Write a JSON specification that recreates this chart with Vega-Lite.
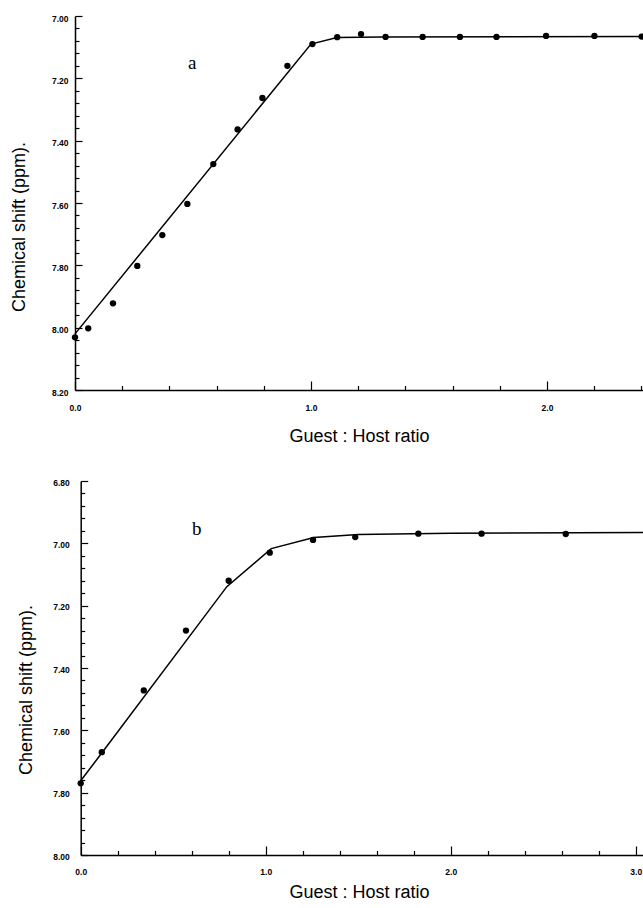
{
  "$schema": "https://vega.github.io/schema/vega-lite/v6.json",
  "autosize": {"type": "none"},
  "padding": {"left": 75, "top": 16, "right": 568, "bottom": 892},
  "background": "white",
  "spacing": 33,
  "config": {
    "view": {"stroke": null},
    "axis": {
      "grid": false,
      "domainColor": "black",
      "domainWidth": 1.5,
      "tickColor": "black",
      "tickWidth": 1.2,
      "labelColor": "black",
      "labelFont": "Liberation Sans",
      "labelFontWeight": "bold",
      "labelFontSize": 8.5,
      "labelFlush": false,
      "labelOverlap": false,
      "titleColor": "black",
      "titleFont": "Liberation Sans",
      "titleFontSize": 18,
      "titleFontWeight": "normal"
    }
  },
  "datasets": {
    "fitA": [
      {"x": 0, "y": 8.02},
      {"x": 1.0, "y": 7.09},
      {"x": 1.11, "y": 7.069},
      {"x": 1.3, "y": 7.067},
      {"x": 2.4068, "y": 7.066}
    ],
    "ptsA": [
      {"x": 0, "y": 8.031},
      {"x": 0.056, "y": 8.002},
      {"x": 0.161, "y": 7.922},
      {"x": 0.264, "y": 7.802},
      {"x": 0.37, "y": 7.703},
      {"x": 0.476, "y": 7.603},
      {"x": 0.586, "y": 7.475},
      {"x": 0.689, "y": 7.364},
      {"x": 0.794, "y": 7.263},
      {"x": 0.9, "y": 7.16},
      {"x": 1.006, "y": 7.09},
      {"x": 1.111, "y": 7.068},
      {"x": 1.212, "y": 7.058},
      {"x": 1.316, "y": 7.067},
      {"x": 1.473, "y": 7.067},
      {"x": 1.631, "y": 7.067},
      {"x": 1.786, "y": 7.067},
      {"x": 1.996, "y": 7.064},
      {"x": 2.201, "y": 7.064},
      {"x": 2.401, "y": 7.066}
    ],
    "labA": [{"x": 0.497, "y": 7.15, "label": "a"}],
    "fitB": [
      {"x": 0, "y": 7.762},
      {"x": 0.12, "y": 7.668},
      {"x": 0.79, "y": 7.139},
      {"x": 1.03, "y": 7.017},
      {"x": 1.26, "y": 6.981},
      {"x": 1.5, "y": 6.972},
      {"x": 2.0, "y": 6.968},
      {"x": 3.0395, "y": 6.965}
    ],
    "ptsB": [
      {"x": 0, "y": 7.77},
      {"x": 0.114, "y": 7.67},
      {"x": 0.341, "y": 7.472},
      {"x": 0.569, "y": 7.28},
      {"x": 0.8, "y": 7.12},
      {"x": 1.022, "y": 7.03},
      {"x": 1.256, "y": 6.989},
      {"x": 1.484, "y": 6.98},
      {"x": 1.825, "y": 6.969},
      {"x": 2.167, "y": 6.969},
      {"x": 2.622, "y": 6.97}
    ],
    "labB": [{"x": 0.627, "y": 6.954, "label": "b"}]
  },
  "vconcat": [
    {
      "width": 568,
      "height": 374,
      "resolve": {"axis": {"x": "independent", "y": "independent"}},
      "layer": [
        {
          "data": {"name": "fitA"},
          "mark": {"type": "line", "color": "black", "strokeWidth": 1.5},
          "encoding": {
            "x": {"field": "x", "type": "quantitative",
              "scale": {"domain": [0, 2.4068], "nice": false, "zero": false},
              "axis": {"orient": "bottom", "values": [0, 1, 2], "format": ".1f", "tickSize": -9, "labelPadding": 22.7, "title": "Guest : Host ratio", "titleY": 37}},
            "y": {"field": "y", "type": "quantitative",
              "scale": {"domain": [7.0, 8.2], "reverse": true, "nice": false, "zero": false},
              "axis": {"orient": "left", "values": [7.0, 7.2, 7.4, 7.6, 7.8, 8.0, 8.2], "format": ".2f", "tickSize": -7, "labelPadding": 14, "labelOffset": 2, "title": "Chemical shift (ppm).", "titleX": -46.2, "titleY": 210.5}}
          }
        },
        {
          "data": {"name": "ptsA"},
          "mark": {"type": "circle", "color": "black", "size": 40, "opacity": 1},
          "encoding": {
            "x": {"field": "x", "type": "quantitative",
              "scale": {"domain": [0, 2.4068], "nice": false, "zero": false},
              "axis": {"orient": "bottom", "values": [0.2, 0.4, 0.6, 0.8, 1.2, 1.4, 1.6, 1.8, 2.2, 2.4], "tickSize": -4.5, "labels": false, "domain": false, "title": null}},
            "y": {"field": "y", "type": "quantitative",
              "scale": {"domain": [7.0, 8.2], "reverse": true, "nice": false, "zero": false},
              "axis": {"orient": "left", "values": [7.04, 7.08, 7.12, 7.16, 7.24, 7.28, 7.32, 7.36, 7.44, 7.48, 7.52, 7.56, 7.64, 7.68, 7.72, 7.76, 7.84, 7.88, 7.92, 7.96, 8.04, 8.08, 8.12, 8.16], "tickSize": -4, "labels": false, "domain": false, "title": null}}
          }
        },
        {
          "data": {"name": "labA"},
          "mark": {"type": "text", "font": "Liberation Serif", "fontSize": 19, "color": "black", "baseline": "middle", "align": "center"},
          "encoding": {
            "x": {"field": "x", "type": "quantitative", "scale": {"domain": [0, 2.4068], "nice": false, "zero": false}, "axis": null},
            "y": {"field": "y", "type": "quantitative", "scale": {"domain": [7.0, 8.2], "reverse": true, "nice": false, "zero": false}, "axis": null},
            "text": {"field": "label"}
          }
        }
      ]
    },
    {
      "width": 568,
      "height": 374,
      "resolve": {"axis": {"x": "independent", "y": "independent"}},
      "layer": [
        {
          "data": {"name": "fitB"},
          "mark": {"type": "line", "color": "black", "strokeWidth": 1.5},
          "encoding": {
            "x": {"field": "x", "type": "quantitative",
              "scale": {"domain": [-0.0308, 3.0395], "nice": false, "zero": false},
              "axis": {"orient": "bottom", "values": [0, 1, 2, 3], "format": ".1f", "tickSize": -9, "labelPadding": 21.3, "title": "Guest : Host ratio", "titleY": 28.7, "domainDash": [0, 5.7, 2000, 0]}},
            "y": {"field": "y", "type": "quantitative",
              "scale": {"domain": [6.8, 8.0], "reverse": true, "nice": false, "zero": false},
              "axis": {"orient": "left", "offset": -5.7, "values": [6.8, 7.0, 7.2, 7.4, 7.6, 7.8, 8.0], "format": ".2f", "tickSize": -7, "labelPadding": 18.4, "labelOffset": 1, "title": "Chemical shift (ppm).", "titleX": -44.9, "titleY": 208.5}}
          }
        },
        {
          "data": {"name": "ptsB"},
          "mark": {"type": "circle", "color": "black", "size": 40, "opacity": 1},
          "encoding": {
            "x": {"field": "x", "type": "quantitative",
              "scale": {"domain": [-0.0308, 3.0395], "nice": false, "zero": false},
              "axis": {"orient": "bottom", "values": [0.2, 0.4, 0.6, 0.8, 1.2, 1.4, 1.6, 1.8, 2.2, 2.4, 2.6, 2.8], "tickSize": -4.5, "labels": false, "domain": false, "title": null}},
            "y": {"field": "y", "type": "quantitative",
              "scale": {"domain": [6.8, 8.0], "reverse": true, "nice": false, "zero": false},
              "axis": {"orient": "left", "offset": -5.7, "values": [6.84, 6.88, 6.92, 6.96, 7.04, 7.08, 7.12, 7.16, 7.24, 7.28, 7.32, 7.36, 7.44, 7.48, 7.52, 7.56, 7.64, 7.68, 7.72, 7.76, 7.84, 7.88, 7.92, 7.96], "tickSize": -4, "labels": false, "domain": false, "title": null}}
          }
        },
        {
          "data": {"name": "labB"},
          "mark": {"type": "text", "font": "Liberation Serif", "fontSize": 19, "color": "black", "baseline": "middle", "align": "center"},
          "encoding": {
            "x": {"field": "x", "type": "quantitative", "scale": {"domain": [-0.0308, 3.0395], "nice": false, "zero": false}, "axis": null},
            "y": {"field": "y", "type": "quantitative", "scale": {"domain": [6.8, 8.0], "reverse": true, "nice": false, "zero": false}, "axis": null},
            "text": {"field": "label"}
          }
        }
      ]
    }
  ]
}
